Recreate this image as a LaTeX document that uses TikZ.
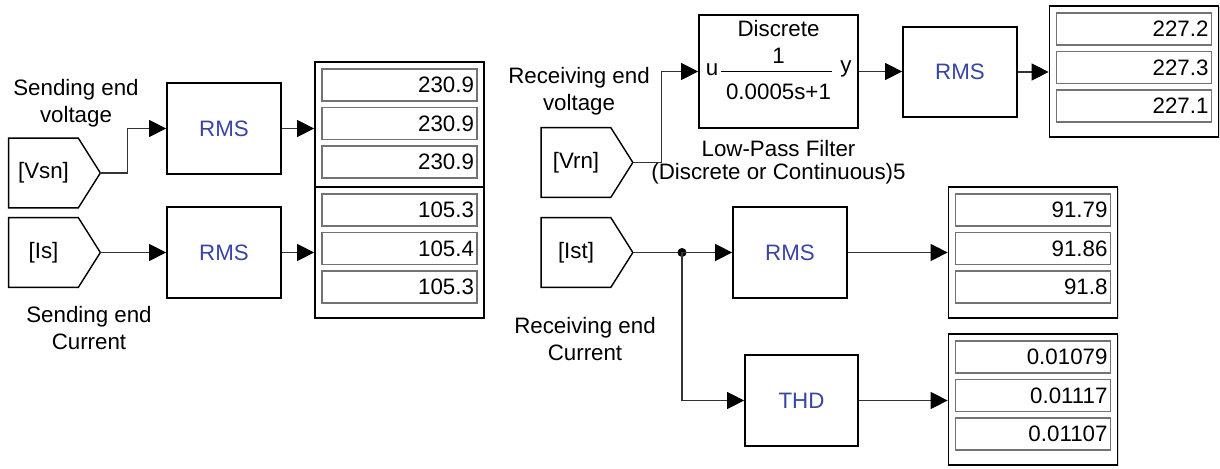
\documentclass[tikz,border=0pt]{standalone}
\usepackage{fontspec}
\setmainfont{Liberation Sans}
\usetikzlibrary{arrows.meta,shadows}
\definecolor{rmsblue}{RGB}{58,68,165}

\begin{document}
\begin{tikzpicture}[x=0.02cm,y=-0.02cm,font=\fontsize{12.7}{15.3}\selectfont]
\tikzstyle{block}=[rectangle,draw,line width=1pt,fill=white,minimum width=2.28cm,minimum height=1.82cm,
	drop shadow={shadow xshift=0.7pt,shadow yshift=-0.7pt,opacity=0.3}]
\tikzstyle{tag}=[rectangle,minimum width=1.38cm,minimum height=1.38cm]
\tikzset{
	blue label/.style={text=rmsblue},
	display/.style={rectangle,draw,line width=1pt,fill=white,minimum width=3.38cm,minimum height=2.62cm,
		drop shadow={shadow xshift=0.7pt,shadow yshift=-0.7pt,opacity=0.3}},
	field/.style={rectangle,draw=black!55,line width=0.6pt,minimum height=0.64cm,text width=2.98cm,
		inner xsep=0.06cm,inner ysep=0pt,align=right},
	wire/.style={draw=black!80,line width=0.6pt,-{Triangle[length=0.34cm,width=0.34cm,black]}},
	caption/.style={align=center}
}
\useasboundingbox (0,0) rectangle (1220,469);

% sending end
\node[caption] (vsnlabel) at (76,103.5) {Sending end\\voltage};
\node[tag] (vsn) at (43.5,173) {[Vsn]};
\node[tag] (is) at (43.5,252.5) {[Is]};
\node[caption] (islabel) at (89,328) {Sending end\\Current};
\node[block,blue label] (rms1) at (224,128.5) {RMS};
\node[block,blue label] (rms2) at (224,252.5) {RMS};

% receiving end voltage
\node[caption] (vrnlabel) at (579,91.5) {Receiving end\\voltage};
\node[tag] (vrn) at (576,162.5) {[Vrn]};
\node[block,minimum width=3.18cm,minimum height=2.26cm] (lpf) at (778.5,71.5) {};
\node (lpfname) at (778.5,29) {Discrete};
\node (lpfnum) at (778.5,56) {1};
\node (lpfden) at (778.5,92) {0.0005s+1};
\node (lpfu) at (712,70) {u};
\node (lpfy) at (846,69) {y};
\draw[line width=0.5pt] (721,71) -- (832,71);
\node[caption,text depth=0pt] (lpflabel) at (778.5,160) {Low-Pass Filter\\[-2pt](Discrete or Continuous)5};
\node[block,blue label,minimum height=1.8cm] (rms3) at (960,72) {RMS};

% receiving end current
\node[tag] (ist) at (576,252.5) {[Ist]};
\node[caption] (istlabel) at (585,339) {Receiving end\\Current};
\coordinate (split) at (682,252.5);
\node[block,blue label] (rms4) at (790,252.5) {RMS};
\node[block,blue label,minimum width=2.26cm] (thd) at (801.5,400.5) {THD};

% goto tags
\foreach \t in {vsn,is,vrn,ist}
	\draw[line width=0.8pt] (\t.north west) -- (\t.north east) -- ([xshift=0.44cm]\t.east)
		-- (\t.south east) -- (\t.south west) -- cycle;
\coordinate (vsntip) at ([xshift=0.44cm]vsn.east);
\coordinate (istip) at ([xshift=0.44cm]is.east);
\coordinate (vrntip) at ([xshift=0.44cm]vrn.east);
\coordinate (isttip) at ([xshift=0.44cm]ist.east);

% displays
\foreach \d/\cx/\cy/\a/\b/\c in {disp1/399.5/127.5/230.9/230.9/230.9,
		disp2/399.5/252.5/105.3/105.4/105.3,
		disp3/1134/71.5/227.2/227.3/227.1,
		disp4/1033/252.5/91.79/91.86/91.8,
		disp5/1033/399.5/0.01079/0.01117/0.01107}
{
	\node[display] (\d) at (\cx,\cy) {};
	\foreach \v [count=\i] in {\a,\b,\c}
		\node[field] (\d f\i) at ({\cx},{\cy-42.5+38.5*(\i-1)}) {\v};
}

% wires
\draw[wire] (vsntip) -- ++(27,0) |- (rms1.west);
\draw[wire] (istip) -- (rms2.west);
\draw[wire] (rms1.east) -- (rms1.east -| disp1.west);
\draw[wire] (rms2.east) -- (rms2.east -| disp2.west);
\draw[wire] (vrntip) -- ++(29,0) |- (lpf.west);
\draw[wire] (lpf.east) -- (lpf.east -| rms3.west);
\draw[wire] (rms3.east) -- (rms3.east -| disp3.west);
\draw[draw=black!80,line width=0.6pt] (isttip) -- (split);
\fill (split) circle (4.5);
\draw[wire] (split) -- (rms4.west);
\draw[wire] (split) |- (thd.west);
\draw[wire] (rms4.east) -- (rms4.east -| disp4.west);
\draw[wire] (thd.east) -- (thd.east -| disp5.west);
\end{tikzpicture}
\end{document}
